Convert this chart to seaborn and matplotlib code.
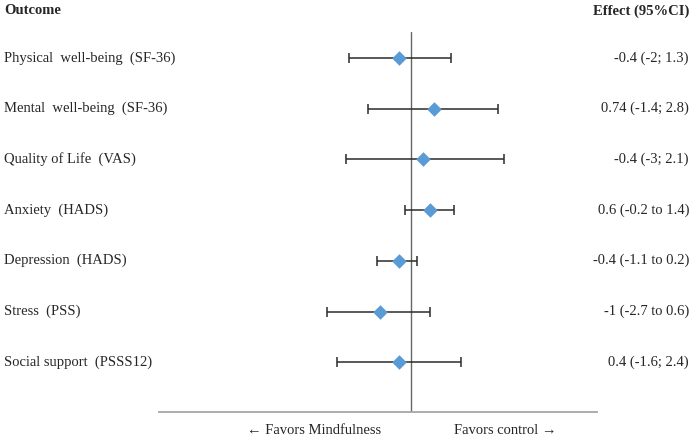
import matplotlib
matplotlib.use("Agg")
import matplotlib.pyplot as plt
import seaborn as sns
import pandas as pd

outcomes = ["Physical  well-being  (SF-36)", "Mental  well-being  (SF-36)",
            "Quality of Life  (VAS)", "Anxiety  (HADS)", "Depression  (HADS)",
            "Stress  (PSS)", "Social support  (PSSS12)"]
effect_labels = ["-0.4 (-2; 1.3)", "0.74 (-1.4; 2.8)", "-0.4 (-3; 2.1)",
                 "0.6 (-0.2 to 1.4)", "-0.4 (-1.1 to 0.2)", "-1 (-2.7 to 0.6)",
                 "0.4 (-1.6; 2.4)"]
# plotted positions as drawn in the chart
estimate = [-0.4, 0.74, 0.4, 0.6, -0.4, -1.0, -0.4]
lower = [-2.0, -1.4, -2.1, -0.2, -1.1, -2.7, -2.4]
upper = [1.3, 2.8, 3.0, 1.4, 0.2, 0.6, 1.6]

df = pd.DataFrame({"row": list(range(1, len(outcomes) + 1)),
                   "estimate": estimate, "lower": lower, "upper": upper})

sns.set_style("white")
plt.rcParams["font.family"] = ["Liberation Serif", "DejaVu Serif"]

W, H = 700, 442
fig = plt.figure(figsize=(W / 100, H / 100), dpi=100)
L, R, T, B = 159, 597, 32, 412
ax = fig.add_axes([L / W, 1 - B / H, (R - L) / W, (B - T) / H])

# CI lines with caps
ax.errorbar(df["estimate"], df["row"],
            xerr=[df["estimate"] - df["lower"], df["upper"] - df["estimate"]],
            fmt="none", ecolor="#2b2b2b", elinewidth=1.1, capsize=3.5, capthick=1.1, zorder=2)
sns.scatterplot(data=df, x="estimate", y="row", marker="D", s=55, color="#5B9BD5",
                edgecolor="#5B9BD5", linewidth=0, zorder=3, ax=ax)

ax.axvline(0, color="#666666", lw=1.0, zorder=1)
ax.set_xlim(-8.13, 6.0)
ax.set_ylim(7.98, 0.49)
for s in ["top", "right", "left"]:
    ax.spines[s].set_visible(False)
ax.spines["bottom"].set_color("#a6a6a6")
ax.spines["bottom"].set_linewidth(1.3)
ax.set_xticks([])
ax.set_yticks([])
ax.set_xlabel("")
ax.set_ylabel("")

fs = 10.5
for i, (o, e) in enumerate(zip(outcomes, effect_labels)):
    y = df["row"][i]
    yp = 1 - (58 + (y - 1) * 50.67) / H
    fig.text(4 / W, yp, o, ha="left", va="center", fontsize=fs)
    fig.text(689 / W, yp, e, ha="right", va="center", fontsize=fs)

fig.text(4 / W, 1 - 11 / H, "Outcome", ha="left", va="center", fontsize=fs, fontweight="bold")
fig.text(689 / W, 1 - 11 / H, "Effect (95%CI)", ha="right", va="center", fontsize=fs, fontweight="bold")
fig.text(314 / W, 1 - 430 / H, "\u2190 Favors Mindfulness", ha="center", va="center", fontsize=fs,
         family=["Liberation Serif", "DejaVu Serif"])
fig.text(505 / W, 1 - 430 / H, "Favors control \u2192", ha="center", va="center", fontsize=fs,
         family=["Liberation Serif", "DejaVu Serif"])

fig.savefig("out.png", dpi=100)
